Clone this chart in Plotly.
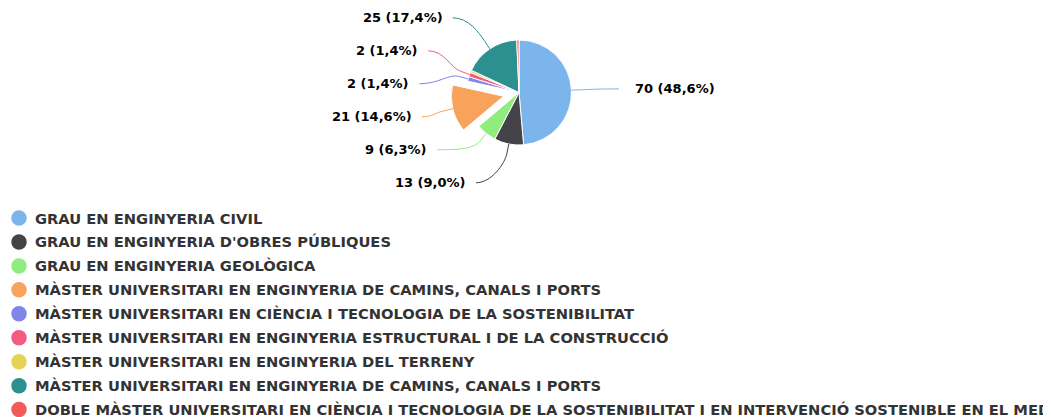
import math
import plotly.graph_objects as go

programs = [
    "GRAU EN ENGINYERIA CIVIL",
    "GRAU EN ENGINYERIA D'OBRES PÚBLIQUES",
    "GRAU EN ENGINYERIA GEOLÒGICA",
    "MÀSTER UNIVERSITARI EN ENGINYERIA DE CAMINS, CANALS I PORTS",
    "MÀSTER UNIVERSITARI EN CIÈNCIA I TECNOLOGIA DE LA SOSTENIBILITAT",
    "MÀSTER UNIVERSITARI EN ENGINYERIA ESTRUCTURAL I DE LA CONSTRUCCIÓ",
    "MÀSTER UNIVERSITARI EN ENGINYERIA DEL TERRENY",
    "MÀSTER UNIVERSITARI EN ENGINYERIA DE CAMINS, CANALS I PORTS",
    "DOBLE MÀSTER UNIVERSITARI EN CIÈNCIA I TECNOLOGIA DE LA SOSTENIBILITAT I EN INTERVENCIÓ SOSTENIBLE EN EL MEDI CONSTRUÏT",
]
students = [70, 13, 9, 21, 2, 2, 1, 25, 1]
show_label = [True, True, True, True, True, True, False, True, False]
colors = ["#7cb5ec", "#434348", "#90ed7d", "#f7a35c", "#8085e9",
          "#f15c80", "#e4d354", "#2b908f", "#f45b5b"]
pulled = [0, 0, 0, 0.3, 0, 0, 0, 0, 0]

W, H = 1051, 417
OFF = 8  # page body margin: figure starts 8px in from the window corner
FONT = "DejaVu Sans"

# pie geometry in window pixels (centre, radius), label distance like highcharts
cx, cy, r = 519, 92.5, 52.5
max_pull = max(pulled)
half = r * (1 + max_pull)
label_dist = 30
label_rx = 100
gap = 33

# legend layout
leg_x, leg_top, leg_row, leg_dot = 19, 218, 23.95, 15.5


def px(x):
    return (x - OFF) / W


def py(y):
    return 1 - (y - OFF) / H


def pct(v, tot):
    p = math.floor(1000 * v / tot + 0.5) / 10
    return f"{p:.1f}".replace(".", ",")


fig = go.Figure()
fig.add_trace(go.Pie(
    ids=[f"p{i}" for i in range(len(programs))],
    labels=[f"p{i}" for i in range(len(programs))],
    hovertext=programs,
    values=students,
    sort=False,
    direction="clockwise",
    rotation=0,
    pull=pulled,
    marker=dict(colors=colors, line=dict(color="white", width=1)),
    textinfo="none",
    hoverinfo="text+value+percent",
    showlegend=False,
    domain=dict(x=[px(cx - half), px(cx + half)], y=[py(cy + half), py(cy - half)]),
))

# ---- data labels with connectors (positions derived from the values) ----
total = sum(students)
labels = []
acc = 0
for i, v in enumerate(students):
    mid = (acc + v / 2) / total * 2 * math.pi
    acc += v
    if not show_label[i]:
        continue
    ux, uy = math.sin(mid), -math.cos(mid)
    rr = r * (1 + pulled[i])
    labels.append(dict(
        i=i,
        land=(cx + rr * ux, cy + rr * uy),
        brk=(cx + (rr + 10) * ux, cy + (rr + 10) * uy),
        y=cy + (r + label_dist) * uy,
        side=1 if ux >= 0 else -1,
        text=f"{v} ({pct(v, total)}%)",
    ))


def distribute(items):
    # merge overlapping labels into groups centred on their natural positions
    groups = [[d] for d in sorted(items, key=lambda d: d["y"])]

    def start(g):
        return sum(d["y"] for d in g) / len(g) - gap * (len(g) - 1) / 2

    merged = True
    while merged:
        merged = False
        for k in range(len(groups) - 1):
            end_k = start(groups[k]) + gap * (len(groups[k]) - 1)
            if start(groups[k + 1]) - end_k < gap:
                groups[k] += groups.pop(k + 1)
                merged = True
                break
    for g in groups:
        s = start(g)
        for j, d in enumerate(g):
            d["ly"] = s + gap * j


for side in (1, -1):
    distribute([d for d in labels if d["side"] == side])

for d in labels:
    dy = d["ly"] - cy
    lx = cx + d["side"] * math.sqrt(max(0.0, label_rx ** 2 - dy ** 2))
    ly = d["ly"]
    bx, by = d["brk"]
    lx2, ly2 = d["land"]
    c1 = (lx + (bx - lx) * 0.5, ly)
    c2 = (2 * bx - lx2, 2 * by - ly2)
    path = (f"M {px(lx)},{py(ly)} C {px(c1[0])},{py(c1[1])} {px(c2[0])},{py(c2[1])} "
            f"{px(bx)},{py(by)} L {px(lx2)},{py(ly2)}")
    fig.add_shape(type="path", path=path, xref="paper", yref="paper",
                  line=dict(color=colors[d["i"]], width=1))
    fig.add_annotation(
        x=px(lx + (14 if d["side"] > 0 else -8)), y=py(ly),
        xref="paper", yref="paper", showarrow=False,
        text=d["text"],
        xanchor="left" if d["side"] > 0 else "right", yanchor="middle",
        font=dict(family=FONT, size=13, color="#000000", weight="bold"),
    )

# ---- legend: round markers and names below the pie ----
for i, (name, c) in enumerate(zip(programs, colors)):
    yc = leg_top + i * leg_row
    fig.add_shape(
        type="circle", xref="paper", yref="paper",
        xsizemode="pixel", ysizemode="pixel",
        xanchor=px(leg_x), yanchor=py(yc),
        x0=-leg_dot / 2, x1=leg_dot / 2, y0=-leg_dot / 2, y1=leg_dot / 2,
        fillcolor=c, line=dict(width=0),
    )
    fig.add_annotation(
        x=px(leg_x + 14), y=py(yc), xref="paper", yref="paper",
        text=name, showarrow=False,
        xanchor="left", yanchor="middle",
        font=dict(family=FONT, size=14.7, color="#333333", weight="bold"),
    )

fig.update_layout(
    width=W, height=H,
    margin=dict(l=0, r=0, t=0, b=0),
    paper_bgcolor="white",
    plot_bgcolor="white",
    showlegend=False,
)

fig.write_html("out.html")
